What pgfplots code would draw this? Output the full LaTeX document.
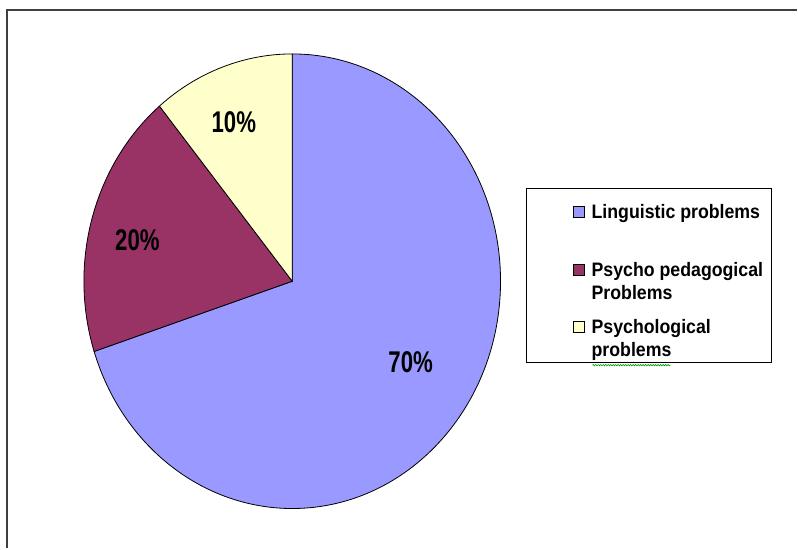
\documentclass[border=0pt]{standalone}
\usepackage{pgfplots}
\pgfplotsset{compat=1.18}
\usepackage{pgfplotstable}
\usepackage{fontspec}
\setmainfont{Liberation Sans}
\newfontfamily\legfont[FakeStretch=0.91]{Liberation Sans Bold}
\newfontfamily\lblfont[FakeStretch=0.74]{Liberation Sans Bold}
\usetikzlibrary{decorations.pathmorphing}
\definecolor{pieA}{HTML}{9999FF}
\definecolor{pieB}{HTML}{993366}
\definecolor{pieC}{HTML}{FFFFCC}
\definecolor{framegray}{HTML}{404040}

% slice sizes as drawn (degrees of the pie, in percent)
\pgfplotstableread[col sep=comma]{
label,value
Linguistic problems,70
Psycho pedagogical Problems,19
Psychological problems,11
}\piedata

\pgfplotstablegetelem{0}{value}\of\piedata \let\vA\pgfplotsretval
\pgfplotstablegetelem{1}{value}\of\piedata \let\vB\pgfplotsretval
\pgfplotstablegetelem{2}{value}\of\piedata \let\vC\pgfplotsretval
\pgfmathsetmacro\aA{90}
\pgfmathsetmacro\aB{\aA-3.6*\vA}
\pgfmathsetmacro\aC{\aB-3.6*\vB}
\pgfmathsetmacro\aD{\aC-3.6*\vC}

\begin{document}
\begin{tikzpicture}
\begin{axis}[x=1bp, y=1bp, xmin=0, xmax=798, ymin=0, ymax=549,
  hide axis, clip=false]
  \path (axis cs:0,0) rectangle (axis cs:798,549);
  % outer frame (left and top)
  \draw[framegray, line width=1.5bp] (axis cs:7,0) -- (axis cs:7,539) -- (axis cs:798,539);
  % pie slices
  \filldraw[fill=pieA, draw=black, line width=0.8bp] (axis cs:292.5,267.5) -- ++(\aA:208.5bp and 227.5bp)
     arc[start angle=\aA, end angle=\aB, x radius=208.5bp, y radius=227.5bp] -- cycle;
  \filldraw[fill=pieB, draw=black, line width=0.8bp] (axis cs:292.5,267.5) -- ++(\aB:208.5bp and 227.5bp)
     arc[start angle=\aB, end angle=\aC, x radius=208.5bp, y radius=227.5bp] -- cycle;
  \filldraw[fill=pieC, draw=black, line width=0.8bp] (axis cs:292.5,267.5) -- ++(\aC:208.5bp and 227.5bp)
     arc[start angle=\aC, end angle=\aD, x radius=208.5bp, y radius=227.5bp] -- cycle;
  % slice labels
  \node[font=\lblfont\fontsize{30bp}{32bp}\selectfont, inner sep=0pt] at (axis cs:411,186) {70\%};
  \node[font=\lblfont\fontsize{30bp}{32bp}\selectfont, inner sep=0pt] at (axis cs:137.5,309) {20\%};
  \node[font=\lblfont\fontsize{30bp}{32bp}\selectfont, inner sep=0pt] at (axis cs:234,426.5) {10\%};
  % legend
  \draw[black, line width=1bp] (axis cs:527,186) rectangle (axis cs:772,360);
  \filldraw[fill=pieA, draw=black, line width=0.8bp] (axis cs:573.5,331.5) rectangle (axis cs:584.5,342.5);
  \filldraw[fill=pieB, draw=black, line width=0.8bp] (axis cs:573.5,273.5) rectangle (axis cs:584.5,284.5);
  \filldraw[fill=pieC, draw=black, line width=0.8bp] (axis cs:573.5,216.5) rectangle (axis cs:584.5,227.5);
  \node[anchor=base west, inner sep=0pt, font=\legfont\fontsize{19.5bp}{23bp}\selectfont] at (axis cs:592,330) {Linguistic problems};
  \node[anchor=base west, inner sep=0pt, font=\legfont\fontsize{19.5bp}{23bp}\selectfont] at (axis cs:592,272) {Psycho pedagogical};
  \node[anchor=base west, inner sep=0pt, font=\legfont\fontsize{19.5bp}{23bp}\selectfont] at (axis cs:592,249) {Problems};
  \node[anchor=base west, inner sep=0pt, font=\legfont\fontsize{19.5bp}{23bp}\selectfont] at (axis cs:592,215) {Psychological};
  \node[anchor=base west, inner sep=0pt, font=\legfont\fontsize{19.5bp}{23bp}\selectfont] at (axis cs:592,192) {problems};
  \draw[green!60!black, line width=0.6bp, decorate, decoration={snake, amplitude=0.7bp, segment length=2.5bp}] (axis cs:593,183.5) -- (axis cs:671,183.5);
\end{axis}
\end{tikzpicture}
\end{document}
